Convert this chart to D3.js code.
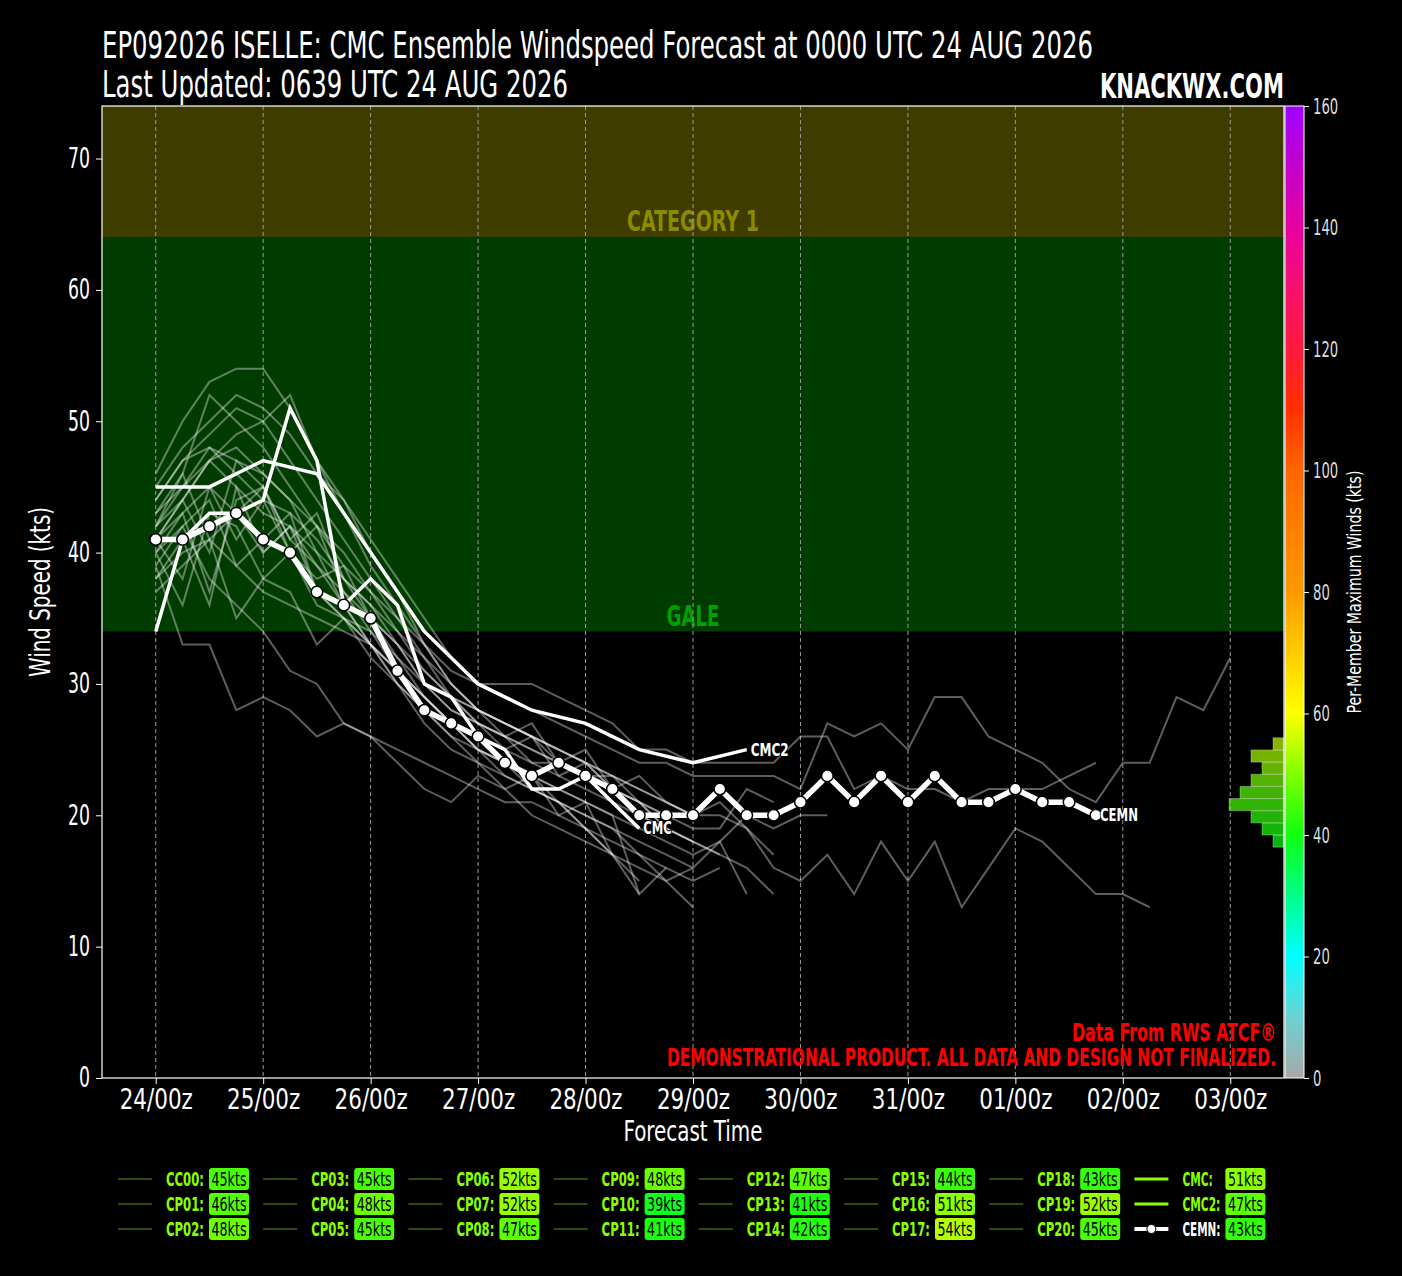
<!DOCTYPE html>
<html>
<head>
<meta charset="utf-8">
<script src="https://cdn.jsdelivr.net/npm/d3@7"></script>
<style>
  body { margin: 0; background: #000; }
  svg text { font-family: "Liberation Sans Narrow", "DejaVu Sans Condensed", "Roboto Condensed", sans-serif; }
</style>
</head>
<body>
<svg id="chart" width="1402" height="1276"></svg>
<script>
// --- données ---
const xTickHours = [0, 24, 48, 72, 96, 120, 144, 168, 192, 216, 240];
const xTickLabels = ['24/00z', '25/00z', '26/00z', '27/00z', '28/00z', '29/00z', '30/00z', '31/00z', '01/00z', '02/00z', '03/00z'];
const yTicks = [0, 10, 20, 30, 40, 50, 60, 70];
const colorTicks = [0, 20, 40, 60, 80, 100, 120, 140, 160];

const memberNames = ['CC00', 'CP01', 'CP02', 'CP03', 'CP04', 'CP05', 'CP06', 'CP07', 'CP08', 'CP09', 'CP10',
  'CP11', 'CP12', 'CP13', 'CP14', 'CP15', 'CP16', 'CP17', 'CP18', 'CP19', 'CP20'];

// vents des membres, pas de 6 h à partir de 24/00z
const memberWinds = [
  [40, 43, 45, 41, 44, 40, 38, 39, 35, 33, 30, 28, 27, 26, 25, 24, 23, 22, 20, 19, 18, 17, 16, 14],
  [42, 46, 41, 43, 45, 40, 42, 37, 34, 31, 28, 27, 26, 24, 23, 21, 19, 17],
  [44, 47, 48, 46, 44, 43, 41, 38, 35, 32, 29, 27, 25, 24, 22, 21, 20, 19, 17, 15, 13],
  [41, 38, 45, 43, 40, 42, 37, 35, 33, 31, 29, 27, 25, 24, 23, 22, 21, 20, 14, 16],
  [43, 45, 47, 48, 46, 44, 40, 36, 33, 30, 27, 25, 24, 22, 23, 20, 21, 17, 14],
  [38, 41, 36, 45, 40, 42, 39, 36, 33, 30, 28, 26, 25, 23, 22, 21, 19, 17, 15],
  [43, 46, 52, 50, 48, 45, 42, 40, 37, 34, 31, 29, 27, 26, 25, 24, 23, 22, 21, 20, 19, 19, 22, 21],
  [45, 48, 50, 52, 51, 49, 46, 44, 41, 38, 35, 32, 30, 29, 28, 27, 26, 25, 24, 24, 23, 23, 23, 23, 22,
    27, 26, 27, 25, 29, 29, 26, 25, 24, 22, 21, 24, 24, 29, 28, 32],
  [41, 44, 47, 45, 43, 42, 40, 38, 36, 34, 32, 30, 28, 27, 26, 25, 24, 23, 22, 21, 20, 21, 19, 16, 15,
    17, 14, 18, 15, 18, 13, 16, 19, 18, 16, 14, 14, 13],
  [42, 45, 48, 47, 46, 44, 42, 39, 37, 35, 33, 31, 30, 30, 30, 29, 28, 27, 25, 25, 24, 24, 24, 24, 26,
    26, 22, 23, 22, 22, 21, 22, 22, 22, 23, 24],
  [39, 33, 33, 28, 29, 28, 26, 27, 26, 24, 22, 21, 23, 22, 20, 19, 18, 17, 16, 15, 16, 18, 14],
  [38, 40, 41, 39, 37, 36, 35, 34, 33, 31, 29, 27, 25, 24, 23, 22, 21, 20, 19, 18, 17, 18, 20, 19, 20, 20],
  [41, 44, 40, 47, 45, 41, 43, 38, 36, 33, 30, 28, 27, 26, 24, 23, 22, 21, 20, 19],
  [37, 39, 41, 35, 38, 37, 33, 35, 32, 30, 28, 26, 24, 23, 22, 21, 20, 19, 18, 17, 16],
  [40, 42, 38, 36, 34, 31, 30, 27, 26, 25, 24, 23, 22, 21, 21, 20, 19, 18, 17, 16, 15, 16],
  [39, 42, 44, 39, 41, 43, 37, 35, 34, 32, 30, 29, 28, 27, 26, 25, 24, 22],
  [44, 47, 49, 51, 50, 47, 44, 41, 38, 35, 32, 29, 27, 25, 26, 23, 24, 22, 21, 19, 18, 17],
  [46, 50, 53, 54, 54, 51, 47, 44, 40, 37, 33, 30, 28, 27, 26, 24, 23, 22, 21, 19, 18],
  [40, 36, 43, 42, 38, 40, 36, 35, 33, 31, 29, 27, 26, 25, 24, 24, 23, 23, 22, 21, 20, 20, 19, 17],
  [42, 44, 47, 49, 50, 52, 47, 43, 39, 36, 33, 30, 28, 26, 27, 24, 25, 22, 23, 21, 20, 22, 20, 20],
  [41, 43, 37, 44, 45, 41, 39, 37, 35, 33, 31, 29, 28, 27, 26, 25, 24, 23, 21, 20],
];

const cmcWinds = [34, 41, 43, 43, 44, 51, 47, 36, 38, 36, 30, 29, 26, 25, 22, 22, 23, 21, 19];   // pas 6 h
const cmc2Winds = [45, 45, 47, 46, 40, 34, 30, 28, 27, 25, 24, 25];                                // pas 12 h
const cemnWinds = [41, 41, 42, 43, 41, 40, 37, 36, 35, 31, 28, 27, 26, 24, 23, 24, 23, 22, 20, 20, 20,
  22, 20, 20, 21, 23, 21, 23, 21, 23, 21, 21, 22, 21, 21, 20];                                    // pas 6 h

const colorStops = [0, 10, 20, 30, 40, 50, 60, 70, 80, 90, 100, 110, 120, 130, 140, 150, 160];
const colorRange = ['#a8a8a8', '#6cd2d2', '#00ffff', '#00ff88', '#10ff10', '#80ff00', '#ffff00', '#ffcc00',
  '#ff9900', '#ff8000', '#ff6600', '#ff3000', '#ff1a3c', '#f5106e', '#e800a0', '#c400cc', '#a000ff'];

// --- mise en page ---
const W = 1402, H = 1276;
const plot = { left: 102, right: 1284, top: 106, bottom: 1078 };
const svg = d3.select('#chart');
svg.append('rect').attr('width', W).attr('height', H).attr('fill', '#000');

const x = d3.scaleLinear().domain([-12, 252]).range([plot.left, plot.right]);
const y = d3.scaleLinear().domain([0, 74]).range([plot.bottom, plot.top]);
const cScale = d3.scaleLinear().domain([0, 160]).range([plot.bottom, plot.top]);
const cmap = d3.scaleLinear().domain(colorStops).range(colorRange).clamp(true);

const toPoints = (arr, step) => arr.map((v, i) => [i * step, v]);
const line = d3.line().x(d => x(d[0])).y(d => y(d[1]));

// la police installée est plus large que l'originale : on resserre par caractère
const squeeze = (sel, perChar) => sel
  .attr('textLength', function () { return this.textContent.length * perChar; })
  .attr('lengthAdjust', 'spacingAndGlyphs');

// bandes d'intensité
svg.append('rect').attr('x', plot.left).attr('width', plot.right - plot.left)
  .attr('y', y(64)).attr('height', y(34) - y(64)).attr('fill', '#003c00');
svg.append('rect').attr('x', plot.left).attr('width', plot.right - plot.left)
  .attr('y', plot.top).attr('height', y(64) - plot.top).attr('fill', '#3f3c00');

svg.append('text').attr('x', (plot.left + plot.right) / 2).attr('y', y(64) - 6)
  .attr('text-anchor', 'middle').attr('font-size', 29).attr('font-weight', 'bold')
  .attr('fill', '#8c8a00').attr('textLength', 132).attr('lengthAdjust', 'spacingAndGlyphs').text('CATEGORY 1');
svg.append('text').attr('x', (plot.left + plot.right) / 2).attr('y', y(34) - 5)
  .attr('text-anchor', 'middle').attr('font-size', 29).attr('font-weight', 'bold')
  .attr('fill', '#00a000').attr('textLength', 53).attr('lengthAdjust', 'spacingAndGlyphs').text('GALE');

// grille verticale
svg.append('g').selectAll('line').data(xTickHours).join('line')
  .attr('x1', d => x(d)).attr('x2', d => x(d))
  .attr('y1', plot.top).attr('y2', plot.bottom)
  .attr('stroke', '#9a9a9a').attr('stroke-width', 1).attr('stroke-dasharray', '4,3');

// membres
svg.append('g').selectAll('path').data(memberWinds).join('path')
  .attr('d', d => line(toPoints(d, 6)))
  .attr('fill', 'none').attr('stroke', '#fff').attr('stroke-opacity', 0.37)
  .attr('stroke-width', 2).attr('stroke-linejoin', 'miter');

// déterministes
const detLines = [
  { name: 'CMC', pts: toPoints(cmcWinds, 6) },
  { name: 'CMC2', pts: toPoints(cmc2Winds, 12) },
];
for (const d of detLines) {
  svg.append('path').attr('d', line(d.pts)).attr('fill', 'none')
    .attr('stroke', '#fff').attr('stroke-width', 3.5);
}

// moyenne d'ensemble
const cemnPts = toPoints(cemnWinds, 6);
svg.append('path').attr('d', line(cemnPts)).attr('fill', 'none')
  .attr('stroke', '#fff').attr('stroke-width', 5.5);
svg.append('g').selectAll('circle').data(cemnPts).join('circle')
  .attr('cx', d => x(d[0])).attr('cy', d => y(d[1])).attr('r', 5.8)
  .attr('fill', '#fff').attr('stroke', '#000').attr('stroke-width', 1.5);

// étiquettes de fin de trace
const endLabels = [...detLines, { name: 'CEMN', pts: cemnPts }];
for (const d of endLabels) {
  const last = d.pts[d.pts.length - 1];
  svg.append('text').attr('x', x(last[0]) + 4).attr('y', y(last[1]) + 6)
    .attr('font-size', 18).attr('font-weight', 'bold').attr('fill', '#fff')
    .attr('stroke', '#000').attr('stroke-width', 2).attr('paint-order', 'stroke')
    .text(d.name).call(squeeze, 9.5);
}

// histogramme des maxima (membres + déterministes + moyenne)
const allMax = [...memberWinds.map(d => d3.max(d)), d3.max(cmcWinds), d3.max(cmc2Winds), d3.max(cemnWinds)];
const bins = d3.bin().domain([38, 56]).thresholds(d3.range(38, 56, 2))(allMax);
const hx = d3.scaleLinear().domain([0, 1]).range([0, 11]);
svg.append('g').selectAll('rect').data(bins.filter(b => b.length)).join('rect')
  .attr('x', b => plot.right - hx(b.length)).attr('width', b => hx(b.length))
  .attr('y', b => cScale(b.x1)).attr('height', b => cScale(b.x0) - cScale(b.x1))
  .attr('fill', b => cmap((b.x0 + b.x1) / 2)).attr('fill-opacity', 0.7)
  .attr('stroke', '#fff').attr('stroke-opacity', 0.3).attr('stroke-width', 1);

// textes rouges
svg.append('text').attr('x', 1276).attr('y', 1041).attr('text-anchor', 'end')
  .attr('font-size', 24).attr('font-weight', 'bold').attr('fill', '#ff0000')
  .attr('textLength', 204).attr('lengthAdjust', 'spacingAndGlyphs').text('Data From RWS ATCF®');
svg.append('text').attr('x', 1276).attr('y', 1066).attr('text-anchor', 'end')
  .attr('font-size', 24).attr('font-weight', 'bold').attr('fill', '#ff0000')
  .attr('textLength', 609).attr('lengthAdjust', 'spacingAndGlyphs')
  .text('DEMONSTRATIONAL PRODUCT. ALL DATA AND DESIGN NOT FINALIZED.');

// cadre
svg.append('rect').attr('x', plot.left).attr('y', plot.top)
  .attr('width', plot.right - plot.left).attr('height', plot.bottom - plot.top)
  .attr('fill', 'none').attr('stroke', '#fff').attr('stroke-width', 1.2);

// axes
const styleAxis = (g, size, perChar) => {
  g.select('.domain').remove();
  g.selectAll('line').attr('stroke', '#fff');
  g.selectAll('text').attr('fill', '#fff').attr('font-size', size).attr('font-weight', 300).call(squeeze, perChar);
};
svg.append('g').attr('transform', `translate(${plot.left},0)`)
  .call(d3.axisLeft(y).tickValues(yTicks).tickSize(6).tickPadding(6))
  .call(g => styleAxis(g, 28, 11));
svg.append('g').attr('transform', `translate(0,${plot.bottom})`)
  .call(d3.axisBottom(x).tickValues(xTickHours).tickFormat((d, i) => xTickLabels[i]).tickSize(6).tickPadding(5))
  .call(g => styleAxis(g, 28, 12.2));

svg.append('text').attr('x', (plot.left + plot.right) / 2).attr('y', 1141)
  .attr('text-anchor', 'middle').attr('font-size', 29).attr('fill', '#fff')
  .attr('textLength', 139).attr('lengthAdjust', 'spacingAndGlyphs').text('Forecast Time');
svg.append('text').attr('transform', `translate(50,${(plot.top + plot.bottom) / 2}) rotate(-90)`)
  .attr('text-anchor', 'middle').attr('font-size', 29).attr('fill', '#fff')
  .attr('textLength', 170).attr('lengthAdjust', 'spacingAndGlyphs').text('Wind Speed (kts)');

// barre de couleurs
const grad = svg.append('defs').append('linearGradient').attr('id', 'cbar')
  .attr('x1', 0).attr('x2', 0).attr('y1', 1).attr('y2', 0);
grad.selectAll('stop').data(d3.range(0, 161, 5)).join('stop')
  .attr('offset', d => d / 160).attr('stop-color', d => cmap(d));
svg.append('rect').attr('x', 1285).attr('y', plot.top).attr('width', 19)
  .attr('height', plot.bottom - plot.top).attr('fill', 'url(#cbar)')
  .attr('stroke', '#fff').attr('stroke-width', 1);
svg.append('g').attr('transform', 'translate(1304,0)')
  .call(d3.axisRight(cScale).tickValues(colorTicks).tickSize(5).tickPadding(4))
  .call(g => styleAxis(g, 22, 8.4))
  .call(g => g.selectAll('text').attr('fill', '#dddddd'));
svg.append('text').attr('transform', `translate(1361,${(plot.top + plot.bottom) / 2}) rotate(-90)`)
  .attr('text-anchor', 'middle').attr('font-size', 19).attr('fill', '#fff')
  .attr('textLength', 243).attr('lengthAdjust', 'spacingAndGlyphs')
  .text('Per-Member Maximum Winds (kts)');

// titres
svg.append('text').attr('x', 102).attr('y', 58).attr('font-size', 37).attr('fill', '#fff')
  .attr('textLength', 991).attr('lengthAdjust', 'spacingAndGlyphs')
  .text('EP092026 ISELLE: CMC Ensemble Windspeed Forecast at 0000 UTC 24 AUG 2026');
svg.append('text').attr('x', 102).attr('y', 97).attr('font-size', 37).attr('fill', '#fff')
  .attr('textLength', 466).attr('lengthAdjust', 'spacingAndGlyphs')
  .text('Last Updated: 0639 UTC 24 AUG 2026');
svg.append('text').attr('x', 1284).attr('y', 98).attr('text-anchor', 'end')
  .attr('font-size', 34).attr('font-weight', 'bold').attr('fill', '#fff')
  .attr('textLength', 184).attr('lengthAdjust', 'spacingAndGlyphs').text('KNACKWX.COM');

// légende
const legendItems = [
  ...memberNames.map((n, i) => ({ name: n, max: d3.max(memberWinds[i]), kind: 'member' })),
  { name: 'CMC', max: d3.max(cmcWinds), kind: 'det' },
  { name: 'CMC2', max: d3.max(cmc2Winds), kind: 'det' },
  { name: 'CEMN', max: d3.max(cemnWinds), kind: 'mean' },
];
const leg = svg.append('g');
legendItems.forEach((d, i) => {
  const col = Math.floor(i / 3), row = i % 3;
  const lx = 166 + col * 145.2, ly = 1179 + row * 25;
  const g = leg.append('g');
  if (d.kind === 'member') {
    g.append('line').attr('x1', lx - 48).attr('x2', lx - 14).attr('y1', ly).attr('y2', ly)
      .attr('stroke', '#2c4c08').attr('stroke-width', 2);
  } else if (d.kind === 'det') {
    g.append('line').attr('x1', lx - 48).attr('x2', lx - 14).attr('y1', ly).attr('y2', ly)
      .attr('stroke', '#88ff00').attr('stroke-width', 3);
  } else {
    g.append('line').attr('x1', lx - 48).attr('x2', lx - 14).attr('y1', ly).attr('y2', ly)
      .attr('stroke', '#fff').attr('stroke-width', 4).attr('stroke-dasharray', '13,8');
    g.append('circle').attr('cx', lx - 31).attr('cy', ly).attr('r', 4.5)
      .attr('fill', '#fff').attr('stroke', '#000').attr('stroke-width', 1);
  }
  g.append('text').attr('x', lx).attr('y', ly + 7).attr('font-size', 20).attr('font-weight', 'bold')
    .attr('fill', d.kind === 'mean' ? '#fff' : '#88ff00').text(d.name + ':').call(squeeze, 7.6);
  g.append('rect').attr('x', lx + 43).attr('y', ly - 11).attr('width', 40).attr('height', 22).attr('rx', 3)
    .attr('fill', cmap(d.max));
  g.append('text').attr('x', lx + 63).attr('y', ly + 7).attr('text-anchor', 'middle')
    .attr('font-size', 19).attr('fill', '#000').text(d.max + 'kts').call(squeeze, 7);
});
</script>
</body>
</html>
